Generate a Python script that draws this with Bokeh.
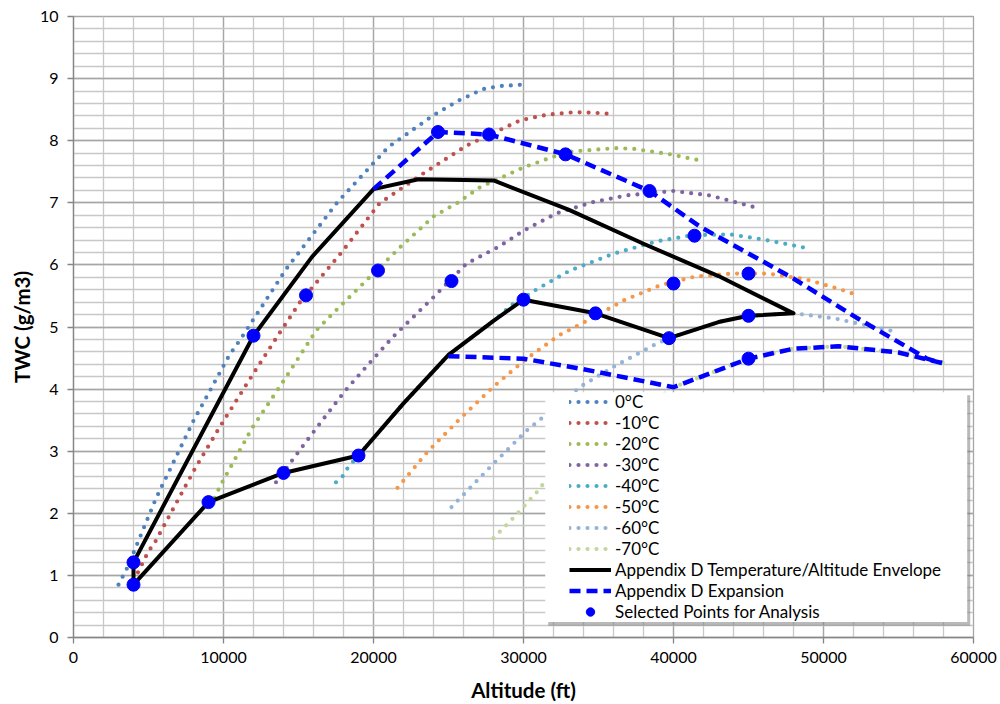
from bokeh.plotting import figure
from bokeh.models import (Range1d, SingleIntervalTicker, Legend, LegendItem,
                          BoxAnnotation, NumeralTickFormatter)
from bokeh.embed import file_html
from bokeh.resources import INLINE

# ---------------- data ----------------
temp_labels = ["0°C", "-10°C", "-20°C", "-30°C", "-40°C", "-50°C", "-60°C", "-70°C"]
temp_colors = ["#4F81BD", "#C0504D", "#9BBB59", "#8064A2", "#4BACC6", "#F79646", "#95B3D7", "#C3D69B"]

alt_t0 = [3000, 3300, 3600, 5500, 8000, 10400, 11100, 14200, 17600, 21000, 24000, 25700, 27300, 28400, 29800]
twc_t0 = [0.85, 0.99, 1.13, 2.24, 3.49, 4.55, 4.79, 5.94, 7.01, 7.90, 8.41, 8.65, 8.83, 8.88, 8.90]

alt_t10 = [4300, 5000, 5400, 8100, 9700, 11700, 13700, 15100, 17900, 20400, 23300, 26200, 29800, 31600, 33400, 34700, 35900]
twc_t10 = [1.05, 1.39, 1.52, 2.72, 3.37, 4.14, 4.89, 5.40, 6.21, 6.99, 7.47, 7.92, 8.33, 8.42, 8.46, 8.45, 8.43]

alt_t20 = [9400, 9800, 11900, 14000, 16200, 17300, 19100, 21800, 24000, 25600, 27100, 30000, 32900, 36100, 37300, 39800, 41600]
twc_t20 = [2.25, 2.45, 3.37, 4.13, 4.95, 5.22, 5.65, 6.29, 6.78, 7.00, 7.25, 7.57, 7.82, 7.88, 7.87, 7.78, 7.69]

alt_t30 = [13500, 15000, 16600, 18100, 19700, 21300, 24000, 26200, 28400, 30000, 32200, 34600, 36900, 40000, 42400, 45400]
twc_t30 = [2.50, 2.99, 3.50, 3.97, 4.41, 4.84, 5.48, 6.02, 6.30, 6.55, 6.83, 7.01, 7.12, 7.19, 7.12, 6.93]

alt_t40 = [17500, 18000, 18300, 19000, 22000, 25000, 28000, 29300, 30900, 33100, 36000, 38900, 41300, 43800, 46200, 48700]
twc_t40 = [2.50, 2.61, 2.74, 2.93, 3.77, 4.55, 5.10, 5.37, 5.61, 5.91, 6.18, 6.38, 6.48, 6.49, 6.40, 6.28]

alt_t50 = [21600, 23600, 25800, 28000, 30200, 32400, 34400, 36700, 39100, 41400, 43900, 46300, 48800, 51200, 52300]
twc_t50 = [2.41, 2.99, 3.53, 4.04, 4.49, 4.87, 5.12, 5.43, 5.67, 5.81, 5.86, 5.86, 5.77, 5.60, 5.51]

alt_t60 = [25200, 27800, 30200, 33800, 36000, 38700, 39700, 43000, 45000, 48000, 50700, 54900]
twc_t60 = [2.10, 2.75, 3.33, 4.04, 4.36, 4.71, 4.82, 5.08, 5.18, 5.22, 5.14, 4.92]

alt_t70 = [28000, 29300, 31000, 31300, 40000, 45000, 48000, 51000, 55000, 58000]
twc_t70 = [1.60, 1.92, 2.37, 2.47, 4.03, 4.49, 4.65, 4.69, 4.59, 4.42]

env_alt = [4000, 4000, 12000, 15900, 20000, 23000, 28000, 33000, 38000, 43000, 48000,
           45000, 43000, 39700, 34800, 30000, 28000, 25000, 22000, 19000, 14000, 9000, 4000]
env_twc = [0.85, 1.21, 4.86, 6.13, 7.22, 7.38, 7.36, 6.89, 6.34, 5.82, 5.22,
           5.18, 5.08, 4.82, 5.22, 5.44, 5.10, 4.55, 3.77, 2.93, 2.65, 2.18, 0.85]

exp_up_alt = [20000, 24300, 27700, 32800, 38400, 41800, 46000, 48000, 52200, 56900, 57900]
exp_up_twc = [7.22, 8.14, 8.10, 7.78, 7.19, 6.61, 6.05, 5.78, 5.15, 4.49, 4.42]

exp_lo_alt = [25000, 30000, 34000, 40000, 45000, 48000, 51000, 55000, 57900]
exp_lo_twc = [4.53, 4.49, 4.32, 4.03, 4.49, 4.65, 4.69, 4.59, 4.42]

pts_alt = [4000, 4000, 9000, 14000, 19000, 12000, 15500, 20300, 25200, 24300, 27700,
           32800, 38400, 41400, 45000, 40000, 30000, 34800, 39700, 45000, 45000]
pts_twc = [0.85, 1.21, 2.18, 2.65, 2.93, 4.86, 5.51, 5.91, 5.74, 8.14, 8.10,
           7.78, 7.19, 6.47, 5.86, 5.70, 5.44, 5.22, 4.82, 5.18, 4.49]

x_ticks_step = 10000
y_ticks_step = 1

FONT = "Lato"

# ---------------- figure ----------------
p = figure(width=1000, height=704, output_backend="svg", toolbar_location=None,
           x_range=Range1d(0, 60000), y_range=Range1d(0, 10),
           min_border_left=73, min_border_right=27, min_border_top=16, min_border_bottom=67)
p.background_fill_color = "white"
p.border_fill_color = "white"
p.outline_line_color = "#a6a6a6"
p.outline_line_width = 1.3

p.xaxis.ticker = SingleIntervalTicker(interval=x_ticks_step, num_minor_ticks=5)
p.yaxis.ticker = SingleIntervalTicker(interval=y_ticks_step, num_minor_ticks=5)
p.xaxis.formatter = NumeralTickFormatter(format="0")
p.yaxis.formatter = NumeralTickFormatter(format="0")

for g in (p.xgrid, p.ygrid):
    g.grid_line_color = "#a6a6a6"
    g.grid_line_width = 1.3
    g.minor_grid_line_color = "#c8c8c8"
    g.minor_grid_line_width = 1.3

for ax in (p.xaxis, p.yaxis):
    ax.axis_line_color = "#868686"
    ax.axis_line_width = 1.3
    ax.major_tick_line_color = "#868686"
    ax.major_tick_line_width = 1.3
    ax.major_tick_out = 6
    ax.major_tick_in = 0
    ax.minor_tick_line_color = None
    ax.major_label_text_font = FONT
    ax.major_label_text_font_size = "16px"
    ax.major_label_text_color = "black"
    ax.axis_label_text_font = FONT
    ax.axis_label_text_font_size = "20.5px"
    ax.axis_label_text_font_style = "bold"
    ax.axis_label_text_color = "black"

p.xaxis.axis_label = "Altitude (ft)"
p.yaxis.axis_label = "TWC (g/m3)"
p.xaxis.major_label_standoff = 8
p.xaxis.axis_label_standoff = 12
p.xaxis.axis_label_text_line_height = 0.8
p.yaxis.major_label_standoff = 9
p.yaxis.axis_label_standoff = 3

# ---------------- series ----------------
temp_alts = [alt_t0, alt_t10, alt_t20, alt_t30, alt_t40, alt_t50, alt_t60, alt_t70]
temp_twcs = [twc_t0, twc_t10, twc_t20, twc_t30, twc_t40, twc_t50, twc_t60, twc_t70]

items = []
for lab, col, xs, ys in zip(temp_labels, temp_colors, temp_alts, temp_twcs):
    r = p.line(xs, ys, line_color=col, line_width=4.2, line_dash="0 9", line_cap="round")
    items.append(LegendItem(label=lab, renderers=[r]))

r_env = p.line(env_alt, env_twc, line_color="black", line_width=4, line_join="round")
items.append(LegendItem(label="Appendix D Temperature/Altitude Envelope", renderers=[r_env]))

r_exp = p.line(exp_up_alt, exp_up_twc, line_color="#0000FF", line_width=4.5, line_dash="11 6")
p.line(exp_lo_alt, exp_lo_twc, line_color="#0000FF", line_width=4.5, line_dash="11 6")
items.append(LegendItem(label="Appendix D Expansion", renderers=[r_exp]))

r_pts = p.scatter(pts_alt, pts_twc, marker="circle", size=13, fill_color="#0000FF", line_color="#0000FF")
items.append(LegendItem(label="Selected Points for Analysis", renderers=[r_pts]))

# ---------------- legend box (with shadow) ----------------
shadow = BoxAnnotation(left=31650, right=59780, bottom=0.19, top=3.90,
                       fill_color="#7f7f7f", fill_alpha=0.55, line_alpha=0)
box = BoxAnnotation(left=31450, right=59580, bottom=0.25, top=3.95,
                    fill_color="white", fill_alpha=1.0, line_alpha=0)
p.add_layout(shadow)
p.add_layout(box)

legend = Legend(items=items, location=(496, 15), orientation="vertical",
                padding=0, margin=0, spacing=0,
                label_height=21, glyph_height=21, glyph_width=42, label_standoff=4,
                label_text_font=FONT, label_text_font_size="17px", label_text_color="black",
                background_fill_alpha=0, border_line_alpha=0)
p.add_layout(legend, "center")

open("out.html", "w").write(file_html(p, INLINE))
